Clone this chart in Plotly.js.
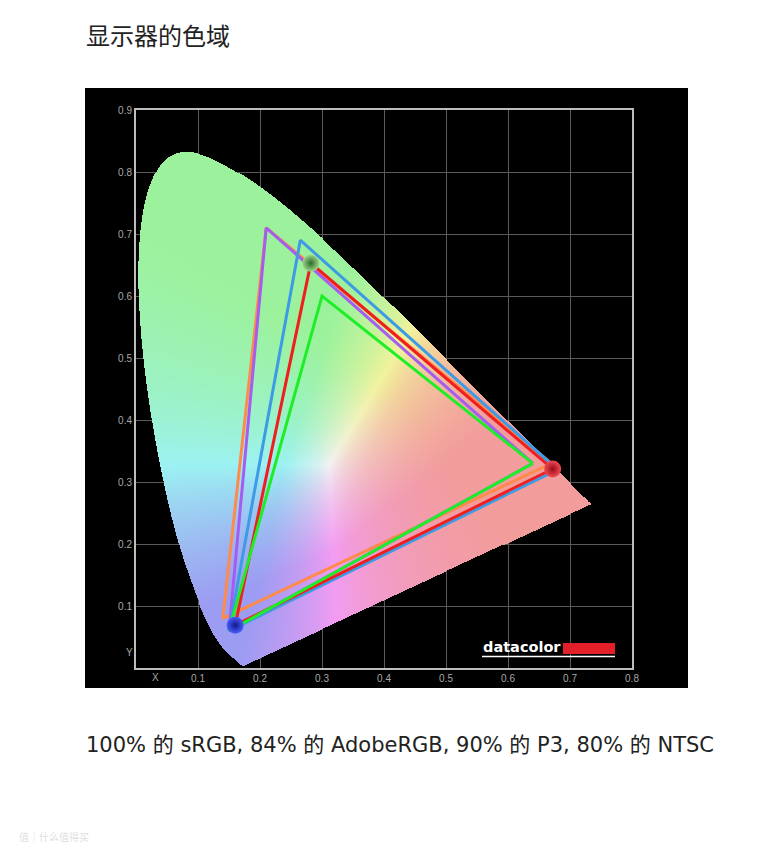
<!DOCTYPE html>
<html>
<head>
<meta charset="utf-8">
<script src="https://cdn.plot.ly/plotly-3.0.1.min.js"></script>
<style>
  html, body { margin: 0; padding: 0; background: #ffffff; }
  #chart { width: 780px; height: 862px; }
</style>
</head>
<body>
<div id="chart"></div>
<script>
// CIE 1931 spectral locus (380–700 nm, 5 nm steps)
const locusX = [0.1741,0.1740,0.1738,0.1736,0.1733,0.1730,0.1726,0.1721,0.1714,0.1703,0.1689,0.1669,0.1644,0.1611,0.1566,0.1510,0.1440,0.1355,0.1241,0.1096,0.0913,0.0687,0.0454,0.0235,0.0082,0.0039,0.0139,0.0389,0.0743,0.1142,0.1547,0.1929,0.2296,0.2658,0.3016,0.3373,0.3731,0.4087,0.4441,0.4788,0.5125,0.5448,0.5752,0.6029,0.6270,0.6482,0.6658,0.6801,0.6915,0.7006,0.7079,0.7140,0.7190,0.7230,0.7260,0.7283,0.7300,0.7311,0.7320,0.7327,0.7334,0.7340,0.7344,0.7346,0.7347];
const locusY = [0.0050,0.0050,0.0049,0.0049,0.0048,0.0048,0.0048,0.0048,0.0051,0.0058,0.0069,0.0086,0.0109,0.0138,0.0177,0.0227,0.0297,0.0399,0.0578,0.0868,0.1327,0.2007,0.2950,0.4127,0.5384,0.6548,0.7502,0.8120,0.8338,0.8262,0.8059,0.7816,0.7543,0.7243,0.6923,0.6589,0.6245,0.5896,0.5547,0.5202,0.4866,0.4544,0.4242,0.3965,0.3725,0.3514,0.3340,0.3197,0.3083,0.2993,0.2920,0.2859,0.2809,0.2770,0.2740,0.2717,0.2700,0.2689,0.2680,0.2673,0.2666,0.2660,0.2656,0.2654,0.2653];

// Gamut triangles (R, G, B primaries)
const ntscX  = [0.67, 0.21, 0.14];
const ntscY  = [0.33, 0.71, 0.08];
const adobeX = [0.64, 0.21, 0.15];
const adobeY = [0.33, 0.71, 0.06];
const p3X    = [0.68, 0.265, 0.15];
const p3Y    = [0.32, 0.69, 0.06];
const displayX = [0.672, 0.282, 0.160];
const displayY = [0.321, 0.653, 0.069];
const srgbX  = [0.64, 0.30, 0.15];
const srgbY  = [0.33, 0.60, 0.06];

const xTickVals = [0.1,0.2,0.3,0.4,0.5,0.6,0.7,0.8];
const xTickText = ['0.1','0.2','0.3','0.4','0.5','0.6','0.7','0.8'];
const yTickVals = [0.1,0.2,0.3,0.4,0.5,0.6,0.7,0.8,0.9];
const yTickText = ['0.1','0.2','0.3','0.4','0.5','0.6','0.7','0.8','0.9'];

const titleText = '显示器的色域';
const captionText = '100% 的 sRGB, 84% 的 AdobeRGB, 90% 的 P3, 80% 的 NTSC';

// ---- chromaticity fill as an image trace ----
const step = 0.0016;
const nx = Math.round(0.8 / step);
const ny = Math.ceil(0.9 / step);
function chromaColor(x, y) {
  const X = x / y, Z = (1 - x - y) / y;
  let r = 3.2406 * X - 1.5372 - 0.4986 * Z;
  let g = -0.9689 * X + 1.8758 + 0.0415 * Z;
  let b = 0.0557 * X - 0.2040 + 1.0570 * Z;
  r = Math.max(r, 0); g = Math.max(g, 0); b = Math.max(b, 0);
  const m = Math.max(r, g, b) || 1;
  r /= m; g /= m; b /= m;
  const k = 1.15;
  r = 1 - Math.min(1, k * (1 - r));
  g = 1 - Math.min(1, k * (1 - g));
  b = 1 - Math.min(1, k * (1 - b));
  const f = v => Math.round(255 * (0.95 - 0.34 * (1 - v)));
  return [f(r), f(g), f(b), 1];
}
// smooth outline (Catmull-Rom) of the locus for the fill mask
const polyX = [], polyY = [];
(function () {
  const n = locusX.length;
  const P = i => [locusX[Math.max(0, Math.min(n - 1, i))], locusY[Math.max(0, Math.min(n - 1, i))]];
  for (let i = 0; i < n - 1; i++) {
    const p0 = P(i - 1), p1 = P(i), p2 = P(i + 1), p3 = P(i + 2);
    for (let s = 0; s < 8; s++) {
      const t = s / 8, t2 = t * t, t3 = t2 * t;
      const cr = (a, b, c, d) => 0.5 * ((2 * b) + (-a + c) * t + (2 * a - 5 * b + 4 * c - d) * t2 + (-a + 3 * b - 3 * c + d) * t3);
      polyX.push(cr(p0[0], p1[0], p2[0], p3[0]));
      polyY.push(cr(p0[1], p1[1], p2[1], p3[1]));
    }
  }
  polyX.push(locusX[n - 1]); polyY.push(locusY[n - 1]);
  polyX.push(locusX[0]); polyY.push(locusY[0]);
})();
const zImg = [];
for (let j = 0; j < ny; j++) {
  const y = (j + 0.5) * step;
  const xs = [];
  for (let i = 0; i < polyX.length - 1; i++) {
    const x1 = polyX[i], y1 = polyY[i], x2 = polyX[i + 1], y2 = polyY[i + 1];
    if ((y1 > y) !== (y2 > y)) xs.push(x1 + (y - y1) * (x2 - x1) / (y2 - y1));
  }
  xs.sort((a, b) => a - b);
  const row = [];
  for (let i = 0; i < nx; i++) {
    const x = (i + 0.5) * step;
    let c = 0;
    for (let t = 0; t < xs.length; t++) if (xs[t] < x) c++;
    row.push(c % 2 === 1 ? chromaColor(x, y) : [0, 0, 0, 0]);
  }
  zImg.push(row);
}

function closed(arr) { return arr.concat([arr[0]]); }
function tri(xArr, yArr, color) {
  return { type: 'scatter', mode: 'lines', x: closed(xArr), y: closed(yArr),
    line: { color: color, width: 3 }, hoverinfo: 'skip', showlegend: false };
}

const traces = [
  { type: 'image', z: zImg, colormodel: 'rgba', x0: step / 2, dx: step, y0: step / 2, dy: step, hoverinfo: 'skip' },
  tri(ntscX, ntscY, '#ff8a4a'),
  tri(adobeX, adobeY, '#a55cf0'),
  tri(p3X, p3Y, '#3d9be6'),
  tri(displayX, displayY, '#f01e1e'),
  tri(srgbX, srgbY, '#1eee28'),
  { type: 'scatter', mode: 'markers', x: [displayX[0]], y: [displayY[0]],
    marker: { size: 17, color: '#f04a55', gradient: { type: 'radial', color: '#9a0a18' }, line: { width: 0 } },
    hoverinfo: 'skip', showlegend: false },
  { type: 'scatter', mode: 'markers', x: [displayX[1]], y: [displayY[1]],
    marker: { size: 17, color: '#9ad88a', gradient: { type: 'radial', color: '#2f6a2a' }, line: { width: 0 } },
    hoverinfo: 'skip', showlegend: false },
  { type: 'scatter', mode: 'markers', x: [displayX[2]], y: [displayY[2]],
    marker: { size: 17, color: '#4a5cff', gradient: { type: 'radial', color: '#101a8a' }, line: { width: 0 } },
    hoverinfo: 'skip', showlegend: false }
];

const tickFont = { family: 'Liberation Sans, Arial, sans-serif', size: 10, color: '#a8a8a8' };

const layout = {
  width: 780, height: 862,
  margin: { l: 136, r: 148, t: 110, b: 194 },
  paper_bgcolor: '#ffffff',
  plot_bgcolor: '#000000',
  showlegend: false,
  title: { text: titleText, xref: 'container', yref: 'container', x: 86 / 780, xanchor: 'left',
    y: 1 - 37 / 862, yanchor: 'middle',
    font: { family: 'Noto Sans CJK SC, sans-serif', size: 24, color: '#222222' } },
  xaxis: { range: [0, 0.8], tickvals: xTickVals, ticktext: xTickText, tickfont: tickFont,
    showgrid: true, gridcolor: '#5a5a5a', gridwidth: 1, zeroline: false,
    showline: true, mirror: true, linecolor: '#bdbdbd', linewidth: 2, ticks: '', fixedrange: true },
  yaxis: { range: [0, 0.9], tickvals: yTickVals, ticktext: yTickText, tickfont: tickFont,
    showgrid: true, gridcolor: '#5a5a5a', gridwidth: 1, zeroline: false,
    showline: true, mirror: true, linecolor: '#bdbdbd', linewidth: 2, ticks: '',
    scaleanchor: 'x', scaleratio: 1, fixedrange: true },
  shapes: [
    { type: 'rect', xref: 'paper', yref: 'paper', layer: 'below',
      x0: (85 - 136) / 496, x1: (688 - 136) / 496, y0: (668 - 688) / 558, y1: (668 - 88) / 558,
      fillcolor: '#000000', line: { width: 0 } },
    { type: 'rect', xref: 'paper', yref: 'paper', layer: 'above',
      x0: (563 - 136) / 496, x1: (615 - 136) / 496, y0: (668 - 654) / 558, y1: (668 - 643) / 558,
      fillcolor: '#e3202a', line: { width: 0 } },
    { type: 'line', xref: 'paper', yref: 'paper', layer: 'above',
      x0: (482 - 136) / 496, x1: (615 - 136) / 496, y0: (668 - 656.5) / 558, y1: (668 - 656.5) / 558,
      line: { color: '#ffffff', width: 1.5 } }
  ],
  annotations: [
    { text: '<b>datacolor</b>', xref: 'paper', yref: 'paper', x: (481 - 136) / 496, y: (668 - 647) / 558,
      xanchor: 'left', yanchor: 'middle', showarrow: false,
      font: { family: 'DejaVu Sans, sans-serif', size: 14.5, color: '#ffffff' } },
    { text: 'X', xref: 'paper', yref: 'paper', x: (155 - 136) / 496, y: (668 - 677) / 558,
      xanchor: 'center', yanchor: 'middle', showarrow: false, font: tickFont },
    { text: 'Y', xref: 'paper', yref: 'paper', x: (129 - 136) / 496, y: (668 - 652) / 558,
      xanchor: 'center', yanchor: 'middle', showarrow: false, font: tickFont },
    { text: captionText, xref: 'paper', yref: 'paper', x: (84 - 136) / 496, y: (668 - 745) / 558,
      xanchor: 'left', yanchor: 'middle', showarrow: false,
      font: { family: 'DejaVu Sans, Noto Sans CJK SC, sans-serif', size: 21, color: '#222222' } },
    { text: '值｜什么值得买', xref: 'paper', yref: 'paper', x: (17 - 136) / 496, y: (668 - 836) / 558,
      xanchor: 'left', yanchor: 'middle', showarrow: false,
      font: { family: 'Noto Sans CJK SC, sans-serif', size: 10, color: '#e0e0e0' } }
  ]
};

Plotly.newPlot('chart', traces, layout, { staticPlot: true, displayModeBar: false });
</script>
</body>
</html>
